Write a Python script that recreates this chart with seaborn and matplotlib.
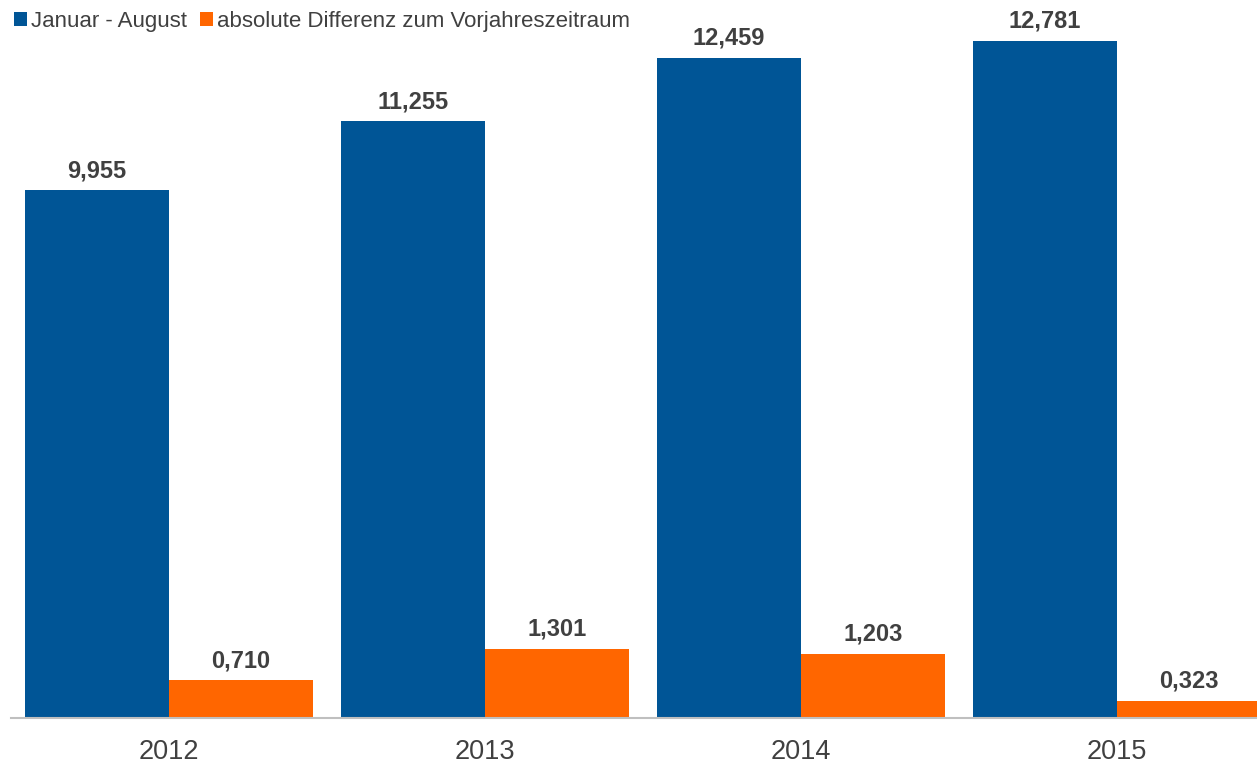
import pandas as pd
import matplotlib.pyplot as plt
import seaborn as sns

jahre = ['2012', '2013', '2014', '2015']
januar_august = [9.955, 11.255, 12.459, 12.781]
differenz = [0.710, 1.301, 1.203, 0.323]
serien = ['Januar - August', 'absolute Differenz zum Vorjahreszeitraum']
farben = ['#005596', '#FF6600']

df = pd.DataFrame({
    'Jahr': jahre * 2,
    'Wert': januar_august + differenz,
    'Serie': [serien[0]] * 4 + [serien[1]] * 4,
})

sns.set_theme(style='white')
plt.rcParams['font.family'] = ['Liberation Sans', 'DejaVu Sans']

fig = plt.figure(figsize=(12.57, 7.69), dpi=100)
ax = fig.add_axes([11 / 1257, 51 / 769, 1246 / 1257, 718 / 769])
sns.barplot(data=df, x='Jahr', y='Wert', hue='Serie', palette=farben,
            width=0.91, saturation=1, linewidth=0, ax=ax)

for cont in ax.containers:
    labels = [f"{b.get_height():.3f}".replace('.', ',') for b in cont]
    ax.bar_label(cont, labels=labels, padding=6, fontsize=17,
                 fontweight='bold', color='#404040')

ax.set_xlim(-0.5, 3.443)
ax.set_ylim(0, 718 / 53)
ax.set_xlabel('')
ax.set_ylabel('')
ax.set_yticks([])
ax.tick_params(axis='x', labelsize=19.5, colors='#404040', length=0, pad=15)
for s in ['top', 'right', 'left']:
    ax.spines[s].set_visible(False)
ax.spines['bottom'].set_color('#BFBFBF')
ax.spines['bottom'].set_linewidth(1.5)

handles, lbls = ax.get_legend_handles_labels()
ax.legend_.remove()
leg = fig.legend(handles, lbls, loc='upper left', bbox_to_anchor=(0.004, 0.997),
                 ncol=2, frameon=False, fontsize=16, handlelength=0.6,
                 handleheight=0.6, handletextpad=0.15, columnspacing=0.6,
                 borderaxespad=0)
for t in leg.get_texts():
    t.set_color('#404040')

fig.savefig('out.png', dpi=100)
